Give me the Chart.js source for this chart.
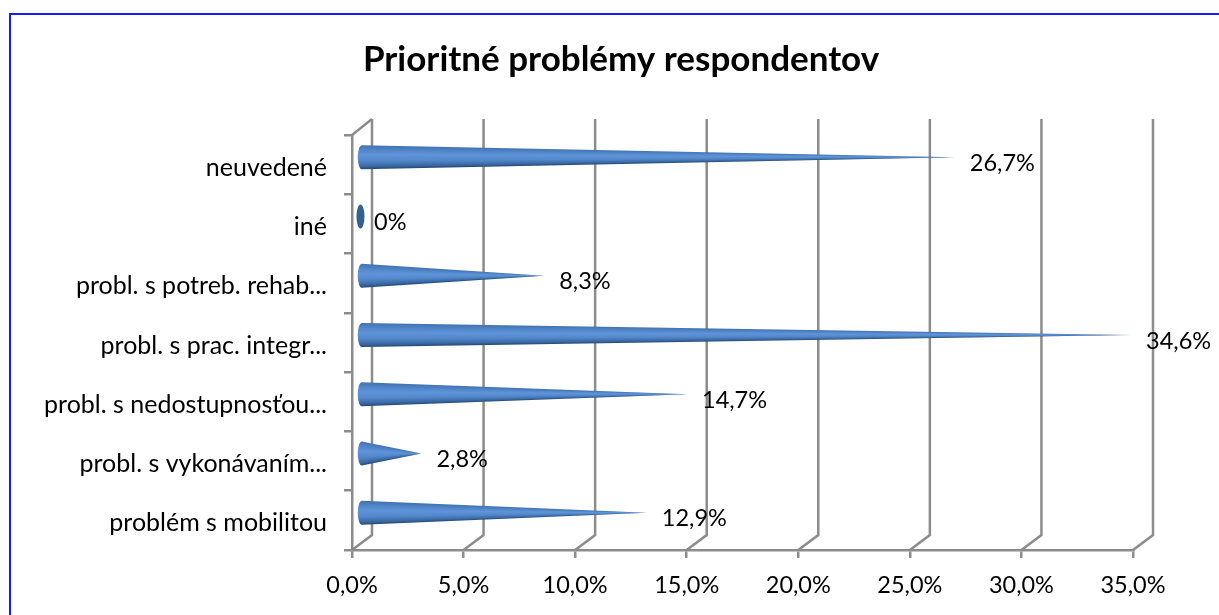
<!DOCTYPE html>
<html lang="sk">
<head>
<meta charset="utf-8">
<title>Prioritné problémy respondentov</title>
<script src="https://cdn.jsdelivr.net/npm/chart.js@4"></script>
<style>
    html, body { margin: 0; padding: 0; background: #fff; overflow: hidden; }
    #frame { position: absolute; left: 9px; top: 13px; width: 1300px; height: 700px; border: 2px solid #1a1aff; box-sizing: border-box; }
    #chart { position: absolute; left: 0; top: 0; }
</style>
</head>
<body>
<div id="frame"></div>
<canvas id="chart" width="1219" height="615"></canvas>
<script>
const chartTitle = 'Prioritné problémy respondentov';
const categories = ['neuvedené', 'iné', 'probl. s potreb. rehab...', 'probl. s prac. integr...', 'probl. s nedostupnosťou...', 'probl. s vykonávaním...', 'problém s mobilitou'];
const values = [26.7, 0, 8.3, 34.6, 14.7, 2.8, 12.9];
const valueLabels = ['26,7%', '0%', '8,3%', '34,6%', '14,7%', '2,8%', '12,9%'];
const xTickLabels = ['0,0%', '5,0%', '10,0%', '15,0%', '20,0%', '25,0%', '30,0%', '35,0%'];

const FONT = 'Lato, Carlito, sans-serif';
const AXIS_COLOR = '#8c8c8c';
const AXIS_WIDTH = 2.5;

// 3D posun zadnej steny a kužeľov
const WALL_DX = 20, WALL_DY = 15, WALL_TOP = 16;
const CONE_DX = 8.5, CONE_TIP_DX = 7, CONE_DY = 7.5, CONE_RX = 4;

// kužeľ namiesto obdĺžnika
class ConeBar extends Chart.BarElement {
    static id = 'coneBar';
    draw(ctx) {
        const { x, y, base, height } = this.getProps(['x', 'y', 'base', 'height']);
        const r = height / 2;
        const x0 = base + CONE_DX;
        const cy = y - CONE_DY;
        ctx.save();
        if (x - base < 1) {
            ctx.fillStyle = '#34608f';
            ctx.beginPath();
            ctx.ellipse(x0, cy, CONE_RX, r, 0, 0, Math.PI * 2);
            ctx.fill();
            ctx.restore();
            return;
        }
        const tip = x + CONE_TIP_DX;
        const a = Math.atan(r / (tip - x0));
        const f = t => (Math.PI + a * t) / (Math.PI * 2);
        const grad = ctx.createConicGradient(0, tip, cy);
        grad.addColorStop(f(-1.02), '#24466f');
        grad.addColorStop(f(-0.75), '#3a6aa5');
        grad.addColorStop(f(-0.3), '#5488cb');
        grad.addColorStop(f(0.2), '#5f94da');
        grad.addColorStop(f(0.6), '#5285c8');
        grad.addColorStop(f(1.02), '#3f72b0');
        ctx.fillStyle = grad;
        ctx.beginPath();
        ctx.moveTo(x0, cy - r);
        ctx.lineTo(tip, cy);
        ctx.lineTo(x0, cy + r);
        ctx.ellipse(x0, cy, CONE_RX, r, 0, Math.PI / 2, Math.PI * 1.5);
        ctx.closePath();
        ctx.fill();
        ctx.restore();
    }
}

class ConeBarController extends Chart.BarController {
    static id = 'coneBar';
    static defaults = { ...Chart.BarController.defaults, dataElementType: 'coneBar' };
    static overrides = Chart.BarController.overrides;
}

Chart.register(ConeBar, ConeBarController);

// zadná stena s mriežkou
const wallPlugin = {
    id: 'wall',
    afterLayout(chart) {
        // nadpis je v origináli posunutý doprava
        chart.titleBlock.left += 54.5;
        chart.titleBlock.right += 54.5;
    },
    beforeDatasetsDraw(chart) {
        const { ctx, chartArea, scales } = chart;
        ctx.save();
        ctx.strokeStyle = AXIS_COLOR;
        ctx.lineWidth = AXIS_WIDTH;
        scales.x.ticks.forEach(t => {
            const px = scales.x.getPixelForValue(t.value);
            ctx.beginPath();
            ctx.moveTo(px, chartArea.bottom);
            ctx.lineTo(px + WALL_DX, chartArea.bottom - WALL_DY);
            ctx.lineTo(px + WALL_DX, chartArea.top - WALL_TOP);
            ctx.stroke();
        });
        ctx.beginPath();
        ctx.moveTo(chartArea.left, chartArea.top);
        ctx.lineTo(chartArea.left + WALL_DX, chartArea.top - WALL_TOP);
        ctx.stroke();
        ctx.restore();
    }
};

// popisky hodnôt
const valueLabelPlugin = {
    id: 'valueLabels',
    afterDatasetsDraw(chart) {
        const { ctx } = chart;
        const meta = chart.getDatasetMeta(0);
        ctx.save();
        ctx.font = '23.5px ' + FONT;
        ctx.fillStyle = '#000';
        ctx.textAlign = 'left';
        ctx.textBaseline = 'middle';
        meta.data.forEach((el, i) => {
            ctx.fillText(valueLabels[i], el.x + 22, el.y - 1.5);
        });
        ctx.restore();
    }
};

new Chart(document.getElementById('chart'), {
    type: 'coneBar',
    data: {
        labels: categories,
        datasets: [{
            data: values,
            barThickness: 24,
            backgroundColor: '#4f81bd'
        }]
    },
    options: {
        indexAxis: 'y',
        responsive: false,
        animation: false,
        layout: { padding: { left: 0, right: 86, top: 0, bottom: 0 } },
        plugins: {
            legend: { display: false },
            tooltip: { enabled: false },
            title: {
                display: true,
                text: chartTitle,
                color: '#000',
                font: { family: FONT, size: 35, weight: 'bold', lineHeight: 1.2 },
                padding: { top: 39, bottom: 54 }
            }
        },
        scales: {
            x: {
                type: 'linear',
                min: 0,
                max: 35,
                ticks: {
                    stepSize: 5,
                    color: '#000',
                    padding: 13,
                    maxRotation: 0,
                    font: { family: FONT, size: 23.5 },
                    callback: (v, i) => xTickLabels[i]
                },
                grid: { drawOnChartArea: false, color: AXIS_COLOR, lineWidth: AXIS_WIDTH, tickLength: 8 },
                border: { color: AXIS_COLOR, width: AXIS_WIDTH },
                afterFit(s) { s.height = 65; }
            },
            y: {
                type: 'category',
                ticks: {
                    color: '#000',
                    padding: 17,
                    labelOffset: 3,
                    autoSkip: false,
                    font: { family: FONT, size: 25 }
                },
                grid: { drawOnChartArea: false, color: AXIS_COLOR, lineWidth: AXIS_WIDTH, tickLength: 8 },
                border: { color: AXIS_COLOR, width: AXIS_WIDTH },
                afterFit(s) { s.width = 352; }
            }
        }
    },
    plugins: [wallPlugin, valueLabelPlugin]
});
</script>
</body>
</html>
